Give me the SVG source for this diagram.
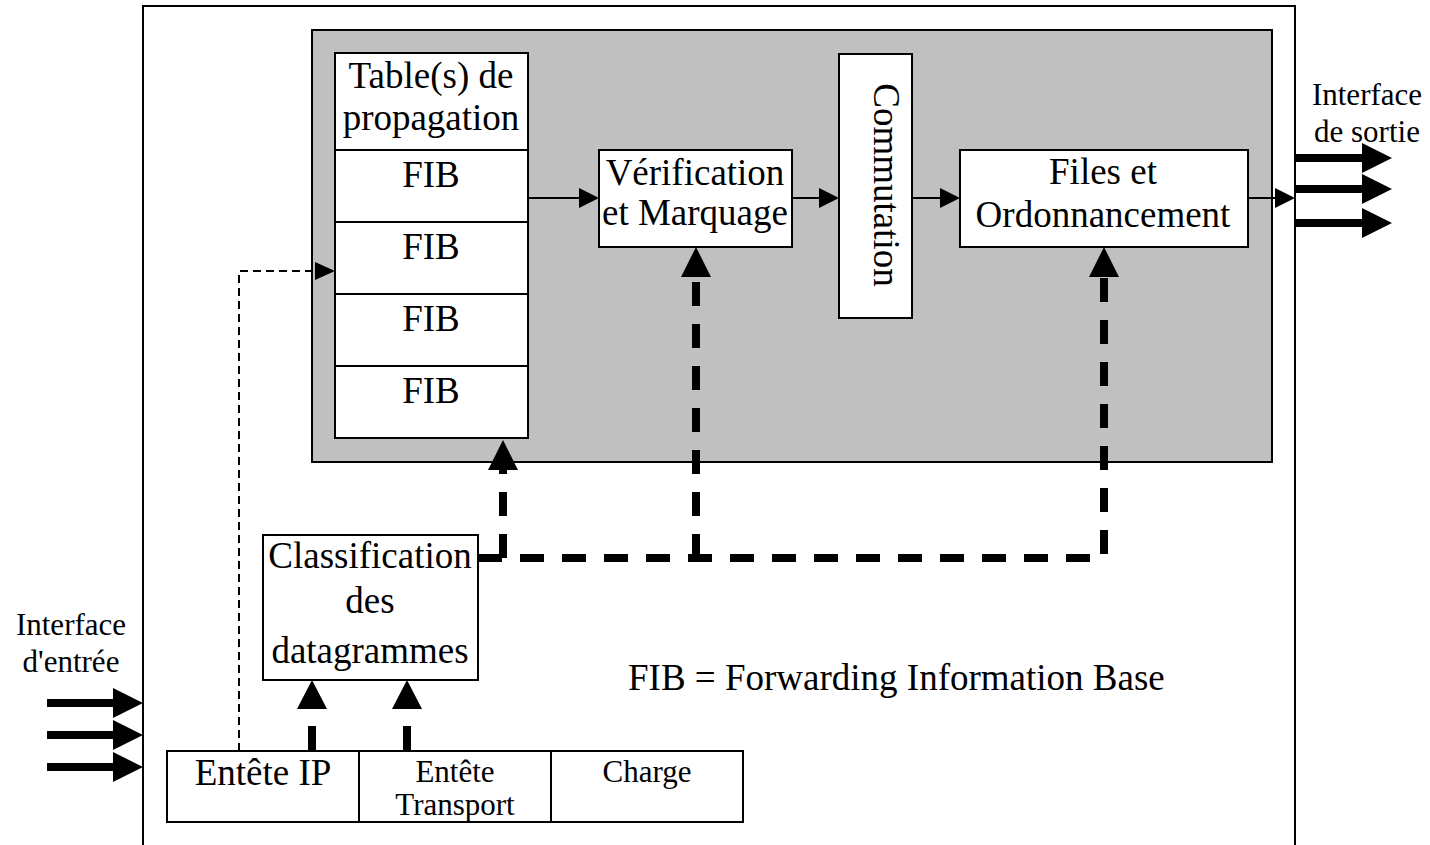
<svg xmlns="http://www.w3.org/2000/svg" width="1430" height="845" viewBox="0 0 1430 845">
  <style>
    .box { fill: #ffffff; stroke: #000000; stroke-width: 2; }
    .panel { fill: #c0c0c0; stroke: #000000; stroke-width: 2; }
    .t { font-family: "Liberation Serif", "Times New Roman", serif; font-size: 37px; fill: #000000; text-anchor: middle; }
    .ts { font-family: "Liberation Serif", "Times New Roman", serif; font-size: 31px; fill: #000000; text-anchor: middle; }
    .thin { fill: none; stroke: #000000; stroke-width: 2; }
    .thindash { fill: none; stroke: #000000; stroke-width: 2; stroke-dasharray: 8 5; }
    .thick { fill: none; stroke: #000000; stroke-width: 8; }
    .thickdash { fill: none; stroke: #000000; stroke-width: 8; stroke-dasharray: 24 18; }
    .head { fill: #000000; stroke: none; }
  </style>

  <!-- router outline -->
  <g id="router">
    <rect x="143" y="6" width="1152" height="860" fill="#ffffff" stroke="#000000" stroke-width="2"/>
  </g>

  <!-- forwarding plane -->
  <g id="forwarding-plane">
    <rect class="panel" x="312" y="30" width="960" height="432"/>
  </g>

  <g id="tables">
    <rect class="box" x="335" y="53" width="193" height="97"/>
    <text class="t" x="431" y="88">Table(s) de</text>
    <text class="t" x="431" y="130">propagation</text>
  </g>
  <g id="fib1">
    <rect class="box" x="335" y="150" width="193" height="72"/>
    <text class="t" x="431" y="187">FIB</text>
  </g>
  <g id="fib2">
    <rect class="box" x="335" y="222" width="193" height="72"/>
    <text class="t" x="431" y="259">FIB</text>
  </g>
  <g id="fib3">
    <rect class="box" x="335" y="294" width="193" height="72"/>
    <text class="t" x="431" y="331">FIB</text>
  </g>
  <g id="fib4">
    <rect class="box" x="335" y="366" width="193" height="72"/>
    <text class="t" x="431" y="403">FIB</text>
  </g>

  <g id="verification">
    <rect class="box" x="599" y="150" width="193" height="97"/>
    <text class="t" x="695" y="185">Vérification</text>
    <text class="t" x="695" y="225">et Marquage</text>
  </g>

  <g id="commutation">
    <rect class="box" x="839" y="54" width="73" height="264"/>
    <text class="t" transform="translate(874 185) rotate(90)">Commutation</text>
  </g>

  <g id="files">
    <rect class="box" x="960" y="150" width="288" height="97"/>
    <text class="t" x="1103" y="184">Files et</text>
    <text class="t" x="1103" y="227">Ordonnancement</text>
  </g>

  <g id="classification">
    <rect class="box" x="263" y="535" width="215" height="145"/>
    <text class="t" x="370" y="568">Classification</text>
    <text class="t" x="370" y="613">des</text>
    <text class="t" x="370" y="663">datagrammes</text>
  </g>

  <g id="entete-ip">
    <rect class="box" x="167" y="751" width="192" height="71"/>
    <text class="t" x="263" y="785">Entête IP</text>
  </g>
  <g id="entete-transport">
    <rect class="box" x="359" y="751" width="192" height="71"/>
    <text class="ts" x="455" y="782">Entête</text>
    <text class="ts" x="455" y="815">Transport</text>
  </g>
  <g id="charge">
    <rect class="box" x="551" y="751" width="192" height="71"/>
    <text class="ts" x="647" y="782">Charge</text>
  </g>

  <g id="input-label">
    <text class="ts" x="71" y="635">Interface</text>
    <text class="ts" x="71" y="672">d'entrée</text>
  </g>
  <g id="output-label">
    <text class="ts" x="1367" y="105">Interface</text>
    <text class="ts" x="1367" y="142">de sortie</text>
  </g>

  <g id="legend">
    <text class="t" x="628" y="690" style="text-anchor:start">FIB = Forwarding Information Base</text>
  </g>

  <g id="connectors">
    <!-- data path -->
    <line class="thin" x1="528" y1="198" x2="581" y2="198"/>
    <polygon class="head" points="579,188 599,198 579,208"/>
    <line class="thin" x1="792" y1="198" x2="821" y2="198"/>
    <polygon class="head" points="819,188 839,198 819,208"/>
    <line class="thin" x1="912" y1="198" x2="942" y2="198"/>
    <polygon class="head" points="940,188 960,198 940,208"/>
    <line class="thin" x1="1248" y1="198" x2="1277" y2="198"/>
    <polygon class="head" points="1275,188 1295,198 1275,208"/>

    <!-- header lookup -->
    <polyline class="thindash" points="239,751 239,271 317,271"/>
    <polygon class="head" points="315,262 335,271 315,280"/>

    <!-- classification results -->
    <path class="thickdash" d="M478 558 H1104 V277"/>
    <path class="thickdash" d="M503 558 V470"/>
    <path class="thickdash" d="M696 558 V277"/>
    <polygon class="head" points="488,470 503,440 518,470"/>
    <polygon class="head" points="681,277 696,247 711,277"/>
    <polygon class="head" points="1089,277 1104,247 1119,277"/>

    <!-- header fields to classifier -->
    <line class="thick" x1="312" y1="751" x2="312" y2="726"/>
    <polygon class="head" points="297,709 312,680 327,709"/>
    <line class="thick" x1="407" y1="751" x2="407" y2="726"/>
    <polygon class="head" points="392,709 407,680 422,709"/>

    <!-- input interface -->
    <line class="thick" x1="47" y1="703" x2="115" y2="703"/>
    <polygon class="head" points="113,688 143,703 113,718"/>
    <line class="thick" x1="47" y1="735" x2="115" y2="735"/>
    <polygon class="head" points="113,720 143,735 113,750"/>
    <line class="thick" x1="47" y1="767" x2="115" y2="767"/>
    <polygon class="head" points="113,752 143,767 113,782"/>

    <!-- output interface -->
    <line class="thick" x1="1295" y1="158" x2="1364" y2="158"/>
    <polygon class="head" points="1362,143 1392,158 1362,173"/>
    <line class="thick" x1="1295" y1="189" x2="1364" y2="189"/>
    <polygon class="head" points="1362,174 1392,189 1362,204"/>
    <line class="thick" x1="1295" y1="223" x2="1364" y2="223"/>
    <polygon class="head" points="1362,208 1392,223 1362,238"/>
  </g>
</svg>
